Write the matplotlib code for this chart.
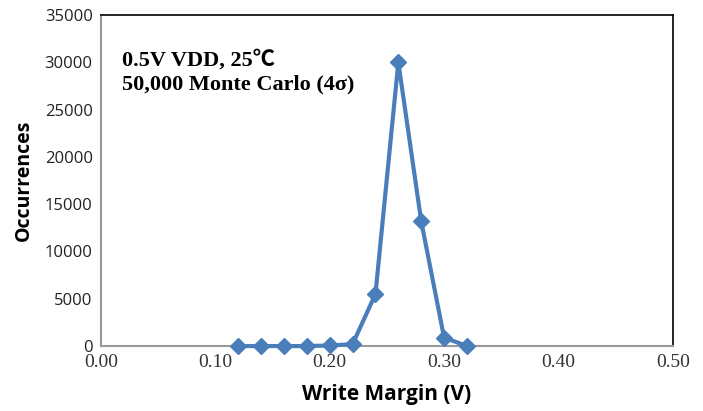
import matplotlib
matplotlib.use("Agg")
import matplotlib.pyplot as plt

margin = [0.12, 0.14, 0.16, 0.18, 0.20, 0.22, 0.24, 0.26, 0.28, 0.30, 0.32]
counts = [0, 0, 0, 0, 60, 200, 5500, 30000, 13200, 900, 0]

fig = plt.figure(figsize=(7.03, 4.11), dpi=100)
ax = fig.add_axes([0.1437, 0.158, 0.8133, 0.8055])

ax.plot(margin, counts, color="#4a7ebb", lw=3.0, marker="D", ms=8.5,
        clip_on=False, zorder=3)

ax.set_xlim(0, 0.5)
ax.set_ylim(0, 35000)
ax.set_xticks([0, 0.1, 0.2, 0.3, 0.4, 0.5])
ax.set_xticklabels(["0.00", "0.10", "0.20", "0.30", "0.40", "0.50"],
                   family="Liberation Serif", fontsize=14, color="#333333")
ax.set_yticks(range(0, 35001, 5000))
ax.set_yticklabels([str(v) for v in range(0, 35001, 5000)],
                   family="Open Sans", fontsize=12, color="#222222")
ax.tick_params(length=0, pad=6)

for s in ["left", "bottom"]:
    ax.spines[s].set_color("#999999")
    ax.spines[s].set_linewidth(1.5)
for s in ["top", "right"]:
    ax.spines[s].set_color("black")
    ax.spines[s].set_linewidth(1.2)

ax.set_xlabel("Write Margin (V)", family="Open Sans", fontweight="bold",
              fontsize=15)
ax.xaxis.set_label_coords(0.5, -0.115)
ax.set_ylabel("Occurrences", family="Open Sans", fontweight="bold",
              fontsize=14, labelpad=8)

ax.text(0.036, 0.895, "0.5V VDD, 25℃\n50,000 Monte Carlo (4σ)",
        transform=ax.transAxes,
        family=["Liberation Serif", "Noto Sans CJK SC", "DejaVu Serif"],
        fontweight="bold", fontsize=16, va="top", linespacing=1.25)

fig.savefig("out.png", dpi=100)
